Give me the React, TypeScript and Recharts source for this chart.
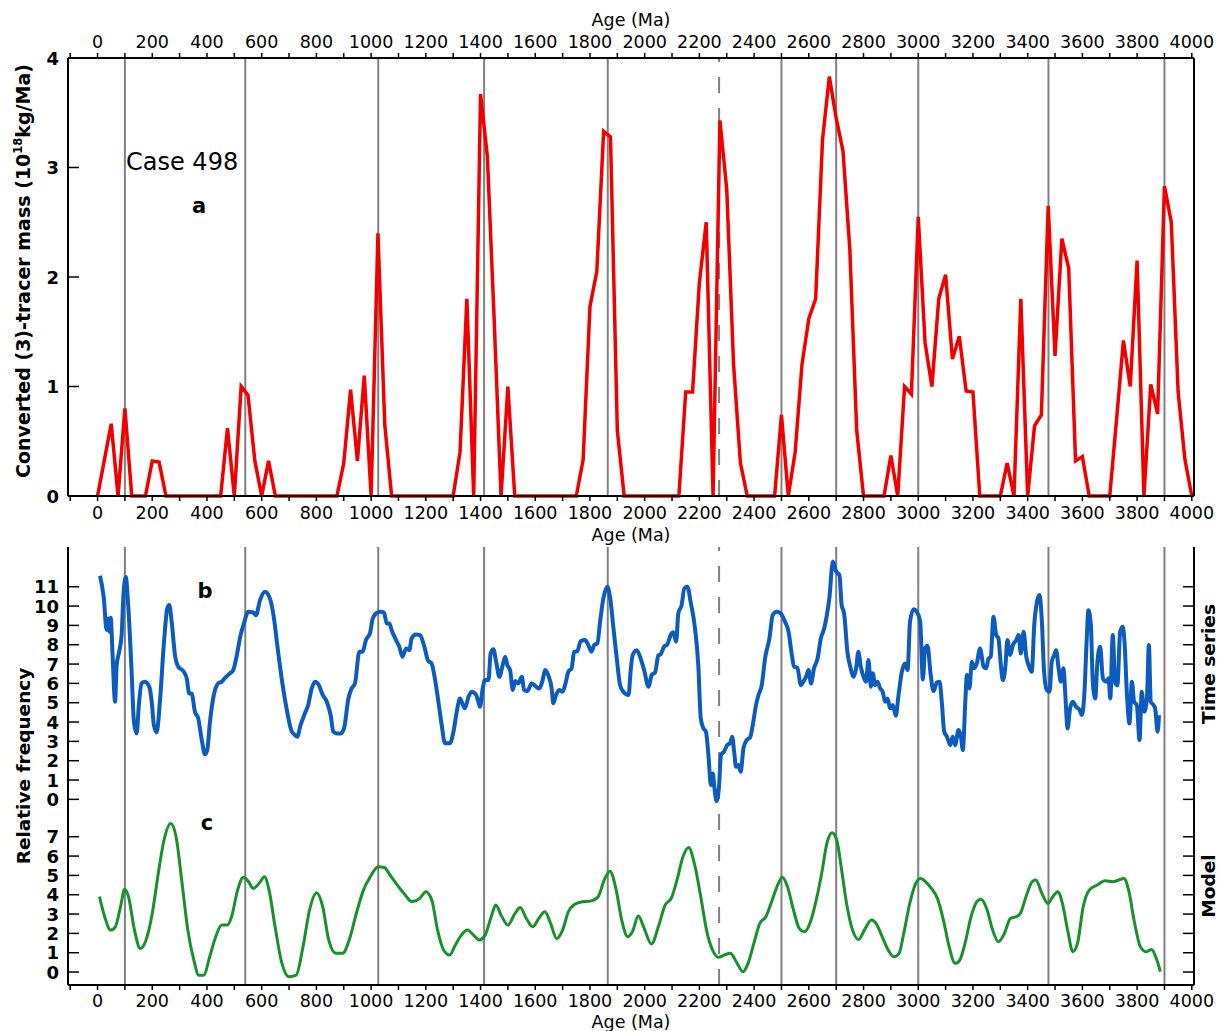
import React from "react";
import { LineChart, Line, XAxis, YAxis, ReferenceLine } from "recharts";

const FONT = "'DejaVu Sans', sans-serif";

// shared age axis
const AGE_DOMAIN = [-108, 4008];
const ageTicks = [
  -100, 0, 100, 200, 300, 400, 500, 600, 700, 800, 900, 1000, 1100, 1200,
  1300, 1400, 1500, 1600, 1700, 1800, 1900, 2000, 2100, 2200, 2300, 2400,
  2500, 2600, 2700, 2800, 2900, 3000, 3100, 3200, 3300, 3400, 3500, 3600,
  3700, 3800, 3900, 4000,
];

// event ages marked with vertical lines
const eventAges = [100, 540, 1026, 1413, 1865, 2500, 2700, 3000, 3476, 3900];
const dashedAge = 2272;

// (a) converted tracer mass, one value every 25 Ma from 0 to 4000
const tracerStep = 25;
const tracerMass = [
  0, 0.33, 0.66, 0, 0.8, 0, 0, 0,
  0.32, 0.31, 0, 0, 0, 0, 0, 0,
  0, 0, 0, 0.62, 0, 1.0, 0.92, 0.32,
  0, 0.32, 0, 0, 0, 0, 0, 0,
  0, 0, 0, 0, 0.3, 0.97, 0.32, 1.1,
  0, 2.4, 0.65, 0, 0, 0, 0, 0,
  0, 0, 0, 0, 0, 0.4, 1.8, 0,
  3.67, 3.1, 1.6, 0, 1.0, 0, 0, 0,
  0, 0, 0, 0, 0, 0, 0, 0.33,
  1.73, 2.05, 3.33, 3.28, 0.6, 0, 0, 0,
  0, 0, 0, 0, 0, 0, 0.95, 0.95,
  1.95, 2.5, 0, 3.43, 2.8, 1.2, 0.3, 0,
  0, 0, 0, 0, 0.74, 0, 0.4, 1.2,
  1.62, 1.8, 3.25, 3.83, 3.45, 3.15, 2.25, 0.6,
  0, 0, 0, 0, 0.37, 0, 1.0, 0.93,
  2.55, 1.4, 1.0, 1.8, 2.02, 1.25, 1.46, 0.96,
  0.95, 0, 0, 0, 0, 0.3, 0, 1.8,
  0, 0.64, 0.74, 2.65, 1.28, 2.35, 2.08, 0.32,
  0.36, 0, 0, 0, 0, 0.7, 1.42, 1.0,
  2.15, 0, 1.02, 0.75, 2.83, 2.5, 0.95, 0.33,
  0,
];
const massTicks = [0, 1, 2, 3, 4];

// (b) time series of relative frequency, [age, value]
const timeSeries = [
  [9, 11.57], [23, 10.4], [33, 8.76], [39, 9.36], [45, 8.67], [48, 9.4], [55, 7.47], [64, 5.05],
  [70, 6.95], [79, 7.64], [88, 8.5], [94, 10.4], [103, 11.5], [112, 10.05], [124, 6.78], [133, 4.02],
  [143, 3.41], [151, 4.88], [161, 6.0], [173, 6.09], [189, 5.83], [198, 5.05], [206, 3.84], [216, 3.47],
  [228, 5.05], [243, 8.16], [255, 9.88], [262, 10.05], [271, 9.19], [283, 7.47], [295, 6.86], [313, 6.64],
  [326, 6.26], [335, 5.48], [344, 5.48], [356, 4.53], [368, 4.19], [380, 3.16], [393, 2.33], [401, 2.55],
  [411, 4.02], [425, 5.4], [441, 6.0], [454, 6.09], [466, 6.29], [484, 6.52], [496, 6.69], [508, 7.38],
  [523, 8.5], [535, 9.1], [551, 9.7], [569, 9.67], [579, 9.53], [594, 10.31], [612, 10.74], [630, 10.4],
  [645, 9.36], [657, 7.98], [673, 6.26], [691, 4.7], [710, 3.5], [722, 3.33], [730, 3.24], [742, 3.84],
  [758, 4.45], [770, 4.88], [783, 5.74], [795, 6.09], [809, 5.91], [822, 5.43], [838, 5.05], [852, 4.36],
  [862, 3.5], [874, 3.41], [889, 3.41], [901, 3.67], [917, 5.22], [929, 5.74], [941, 6.0], [957, 7.64],
  [969, 7.64], [981, 8.24], [996, 8.6], [1006, 9.36], [1018, 9.62], [1033, 9.7], [1047, 9.67], [1057, 9.1],
  [1067, 9.1], [1075, 8.76], [1091, 8.24], [1103, 7.9], [1115, 7.38], [1128, 7.81], [1140, 7.72], [1148, 8.33],
  [1164, 8.53], [1179, 8.5], [1193, 7.98], [1209, 7.16], [1221, 7.03], [1234, 6.17], [1246, 5.05], [1258, 3.84],
  [1270, 2.9], [1288, 2.9], [1301, 3.5], [1313, 4.53], [1325, 5.22], [1335, 4.91], [1343, 4.71], [1356, 5.31],
  [1368, 5.57], [1384, 5.4], [1392, 5.05], [1398, 4.79], [1408, 5.74], [1416, 6.17], [1429, 6.17], [1437, 7.55],
  [1447, 7.76], [1457, 7.12], [1469, 6.34], [1481, 6.95], [1490, 7.38], [1498, 6.95], [1508, 6.69], [1518, 5.66],
  [1527, 6.12], [1538, 6.0], [1551, 6.34], [1559, 5.66], [1571, 5.6], [1587, 6.0], [1603, 5.83], [1615, 5.74],
  [1627, 6.17], [1636, 6.69], [1648, 6.4], [1660, 5.74], [1666, 4.97], [1676, 5.4], [1688, 5.66], [1700, 5.57],
  [1709, 5.91], [1721, 6.6], [1733, 6.78], [1742, 7.64], [1754, 7.67], [1766, 8.19], [1782, 8.24], [1794, 7.98],
  [1806, 7.64], [1815, 7.98], [1827, 8.07], [1837, 9.19], [1849, 10.4], [1864, 11.0], [1874, 10.4], [1886, 8.84],
  [1898, 7.29], [1910, 5.91], [1922, 5.57], [1941, 5.4], [1949, 6.69], [1956, 7.47], [1971, 7.72], [1983, 7.38],
  [1998, 6.69], [2014, 5.83], [2026, 6.45], [2038, 6.56], [2050, 7.45], [2058, 7.5], [2071, 7.9], [2083, 8.02],
  [2095, 8.5], [2105, 8.64], [2115, 8.16], [2123, 9.62], [2135, 10.05], [2145, 10.91], [2156, 11.0], [2168, 10.22],
  [2184, 8.84], [2196, 6.95], [2205, 4.19], [2215, 3.67], [2224, 3.5], [2233, 2.29], [2242, 0.74], [2249, 1.34],
  [2255, 0.57], [2263, -0.09], [2272, 0.74], [2279, 2.29], [2290, 2.47], [2302, 2.81], [2312, 2.9], [2320, 3.24],
  [2327, 2.47], [2334, 1.69], [2343, 1.78], [2351, 1.43], [2361, 2.64], [2373, 3.07], [2385, 3.19], [2395, 3.84],
  [2407, 4.88], [2416, 5.4], [2428, 5.91], [2440, 7.29], [2456, 8.33], [2468, 9.53], [2483, 9.7], [2497, 9.62],
  [2513, 9.19], [2526, 8.67], [2538, 7.47], [2546, 6.86], [2558, 6.81], [2571, 5.91], [2580, 6.09], [2590, 6.34],
  [2599, 6.69], [2608, 6.0], [2619, 6.78], [2632, 7.29], [2644, 8.33], [2656, 8.84], [2666, 9.53], [2675, 10.4],
  [2688, 12.3], [2700, 11.78], [2712, 11.6], [2720, 10.05], [2729, 9.62], [2741, 7.64], [2753, 6.78], [2763, 6.34],
  [2773, 6.78], [2781, 7.64], [2790, 6.86], [2800, 6.34], [2809, 6.09], [2818, 7.21], [2827, 5.83], [2834, 6.52],
  [2842, 5.91], [2851, 6.09], [2861, 5.74], [2870, 5.57], [2879, 5.05], [2888, 5.22], [2897, 4.71], [2907, 4.88],
  [2918, 4.33], [2928, 5.4], [2940, 6.6], [2952, 7.03], [2961, 6.69], [2970, 9.19], [2983, 9.84], [2995, 9.7],
  [3007, 9.2], [3017, 6.2], [3025, 7.81], [3034, 7.95], [3045, 6.5], [3056, 5.6], [3068, 6.05], [3078, 6.09],
  [3086, 5.05], [3095, 3.5], [3105, 3.24], [3117, 2.81], [3126, 3.24], [3135, 2.81], [3147, 3.59], [3156, 3.24],
  [3163, 2.55], [3172, 5.05], [3178, 6.43], [3187, 5.74], [3196, 7.12], [3204, 6.78], [3214, 7.03], [3226, 7.81],
  [3239, 6.86], [3248, 6.78], [3257, 7.29], [3265, 7.38], [3275, 9.45], [3285, 8.5], [3293, 8.33], [3302, 6.95],
  [3309, 6.17], [3318, 6.78], [3326, 8.24], [3336, 7.47], [3346, 7.98], [3358, 8.24], [3367, 8.5], [3375, 7.55],
  [3385, 8.67], [3395, 7.38], [3403, 6.95], [3415, 6.6], [3424, 9.02], [3434, 10.22], [3443, 10.57], [3452, 9.19],
  [3460, 6.6], [3470, 5.66], [3480, 5.57], [3488, 7.12], [3497, 7.47], [3504, 7.72], [3513, 6.78], [3521, 6.09],
  [3531, 6.78], [3537, 5.57], [3546, 3.67], [3555, 4.71], [3565, 5.05], [3577, 4.79], [3590, 4.62], [3598, 4.36],
  [3607, 5.4], [3616, 8.33], [3622, 9.79], [3631, 9.02], [3638, 6.09], [3647, 5.22], [3655, 7.12], [3665, 7.9],
  [3675, 6.26], [3687, 6.09], [3696, 6.26], [3702, 5.22], [3711, 8.5], [3720, 6.0], [3728, 5.91], [3738, 8.67],
  [3747, 8.93], [3754, 8.16], [3763, 5.4], [3772, 3.93], [3781, 6.09], [3789, 5.05], [3799, 4.88], [3809, 3.07],
  [3817, 5.57], [3826, 4.53], [3836, 5.22], [3843, 7.98], [3850, 5.05], [3860, 4.88], [3866, 4.71], [3875, 3.5],
  [3880, 4.36],
];

// (c) model relative frequency, [age, value]
const model = [
  [7, 3.9], [26, 2.86], [48, 2.17], [65, 2.34], [84, 3.38], [99, 4.28], [113, 3.9], [135, 2.17],
  [156, 1.22], [175, 1.57], [200, 3.03], [222, 5.1], [243, 6.83], [268, 7.69], [287, 7.0], [309, 4.59],
  [330, 2.17], [352, 0.62], [370, -0.16], [388, -0.16], [410, 0.79], [432, 1.83], [454, 2.43], [475, 2.43],
  [490, 2.86], [512, 4.24], [533, 4.9], [552, 4.67], [569, 4.33], [591, 4.59], [610, 4.93], [627, 4.24],
  [649, 2.34], [671, 0.62], [700, -0.24], [726, -0.16], [751, 1.31], [775, 3.21], [801, 4.1], [823, 3.38],
  [845, 1.66], [871, 0.97], [896, 0.97], [920, 1.66], [946, 3.03], [972, 4.24], [997, 4.93], [1026, 5.45],
  [1048, 5.41], [1069, 5.02], [1091, 4.59], [1120, 4.07], [1149, 3.64], [1178, 3.81], [1200, 4.16], [1222, 3.72],
  [1243, 2.17], [1265, 1.14], [1287, 0.88], [1308, 1.4], [1330, 1.91], [1352, 2.17], [1374, 1.91], [1395, 1.66],
  [1417, 1.91], [1439, 2.86], [1456, 3.47], [1475, 2.95], [1500, 2.43], [1526, 3.03], [1545, 3.34], [1567, 2.78],
  [1591, 2.34], [1613, 2.78], [1635, 3.12], [1656, 2.52], [1678, 1.74], [1700, 2.17], [1721, 3.12], [1743, 3.5],
  [1772, 3.64], [1801, 3.67], [1830, 3.9], [1852, 4.76], [1873, 5.22], [1895, 4.3], [1916, 2.69], [1938, 1.83],
  [1955, 2.09], [1977, 2.9], [1996, 2.34], [2025, 1.45], [2050, 2.34], [2075, 3.47], [2097, 3.81], [2118, 4.76],
  [2140, 5.97], [2161, 6.45], [2183, 5.53], [2205, 3.9], [2226, 2.17], [2248, 1.14], [2270, 0.76], [2291, 0.88],
  [2313, 0.97], [2335, 0.53], [2359, 0.02], [2378, 0.45], [2399, 1.48], [2421, 2.52], [2443, 2.86], [2464, 3.64],
  [2486, 4.5], [2503, 4.9], [2522, 4.41], [2544, 3.21], [2565, 2.26], [2584, 2.09], [2604, 2.52], [2627, 3.72],
  [2647, 5.1], [2666, 6.66], [2685, 7.21], [2702, 6.83], [2720, 5.28], [2738, 3.55], [2760, 2.17], [2782, 1.69],
  [2803, 2.17], [2829, 2.69], [2846, 2.52], [2868, 1.83], [2890, 1.14], [2911, 0.79], [2930, 0.97], [2947, 2.0],
  [2969, 3.55], [2991, 4.59], [3008, 4.84], [3027, 4.67], [3048, 4.33], [3070, 3.81], [3092, 2.69], [3113, 1.31],
  [3135, 0.45], [3152, 0.62], [3171, 1.48], [3193, 2.86], [3214, 3.64], [3229, 3.76], [3250, 3.29], [3272, 2.17],
  [3293, 1.57], [3315, 2.0], [3337, 2.78], [3358, 2.86], [3373, 3.03], [3394, 3.9], [3416, 4.67], [3430, 4.76],
  [3452, 4.07], [3474, 3.55], [3492, 3.9], [3510, 4.16], [3527, 3.55], [3546, 2.17], [3565, 1.05], [3582, 1.48],
  [3603, 3.38], [3625, 4.24], [3654, 4.5], [3683, 4.72], [3711, 4.67], [3733, 4.76], [3752, 4.84], [3769, 4.24],
  [3791, 2.52], [3812, 1.31], [3834, 1.05], [3853, 1.17], [3870, 0.71], [3885, 0.02],
];

const seriesTicks = [0, 1, 2, 3, 4, 5, 6, 7, 8, 9, 10, 11];
const modelTicks = [0, 1, 2, 3, 4, 5, 6, 7];

// the time series sits above the model on the same scale, shifted up
const SERIES_SHIFT = 8.934;
const FREQ_DOMAIN = [-0.67, 21.99];
const SERIES_DOMAIN = [FREQ_DOMAIN[0] - SERIES_SHIFT, FREQ_DOMAIN[1] - SERIES_SHIFT];
const freqTicks = [...modelTicks, ...seriesTicks.map((t) => t + SERIES_SHIFT)];
const freqLabel = (v: number) => String(Math.round(v > 8 ? v - SERIES_SHIFT : v));

const tracerData = tracerMass.map((m, i) => ({ age: i * tracerStep, mass: m }));
const seriesData = timeSeries.map(([age, v]) => ({ age, freq: v }));
const modelData = model.map(([age, v]) => ({ age, freq: v }));

const ageLabel = (v: number) => (v % 200 === 0 ? String(v) : "");

const axisLine = { stroke: "#000", strokeWidth: 2 };
const xTickStyle = { fill: "#000", fontSize: 17.5, fontFamily: FONT };

// y ticks point into the plot
const LeftTick = (props: any) => {
  const { x, y, payload, fmt } = props;
  return (
    <g>
      <line x1={x} x2={x + 11} y1={y} y2={y} stroke="#000" strokeWidth={1.5} />
      <text
        x={x - 9}
        y={y}
        textAnchor="end"
        dominantBaseline="central"
        fontFamily={FONT}
        fontWeight="bold"
        fontSize={18}
        fill="#000"
      >
        {fmt ? fmt(payload.value) : payload.value}
      </text>
    </g>
  );
};

const RightTick = (props: any) => {
  const { x, y } = props;
  return <line x1={x - 11} x2={x} y1={y} y2={y} stroke="#000" strokeWidth={1.5} />;
};

const markerLines = (xAxisId: string, yAxisId: string) => [
  ...eventAges.map((a) => (
    <ReferenceLine
      key={`ev-${a}`}
      x={a}
      xAxisId={xAxisId}
      yAxisId={yAxisId}
      stroke="#808080"
      strokeWidth={2}
      ifOverflow="visible"
    />
  )),
  <ReferenceLine
    key="ev-dashed"
    x={dashedAge}
    xAxisId={xAxisId}
    yAxisId={yAxisId}
    stroke="#808080"
    strokeWidth={2}
    strokeDasharray="16 15"
    ifOverflow="visible"
  />,
];

const TracerPanel = () => (
  <LineChart width={1218} height={540} data={tracerData} margin={{ top: 0, right: 0, bottom: 0, left: 0 }}>
    <XAxis
      xAxisId="top"
      orientation="top"
      dataKey="age"
      type="number"
      domain={AGE_DOMAIN}
      allowDataOverflow
      ticks={ageTicks}
      interval={0}
      tickFormatter={ageLabel}
      height={58}
      tickSize={5}
      tickMargin={5}
      axisLine={axisLine}
      tickLine={{ stroke: "#000", strokeWidth: 1.5 }}
      tick={xTickStyle}
    />
    <XAxis
      xAxisId="bottom"
      dataKey="age"
      type="number"
      domain={AGE_DOMAIN}
      allowDataOverflow
      ticks={ageTicks}
      interval={0}
      tickFormatter={ageLabel}
      height={44}
      tickSize={5}
      tickMargin={6}
      axisLine={axisLine}
      tickLine={{ stroke: "#000", strokeWidth: 1.5 }}
      tick={xTickStyle}
    />
    <YAxis
      yAxisId="mass"
      type="number"
      domain={[0, 4]}
      ticks={massTicks}
      interval={0}
      width={68}
      tickSize={0}
      tickMargin={0}
      tickLine={false}
      axisLine={axisLine}
      tick={<LeftTick />}
    />
    <YAxis
      yAxisId="massR"
      orientation="right"
      type="number"
      domain={[0, 4]}
      ticks={massTicks}
      interval={0}
      width={24}
      tickSize={0}
      tickMargin={0}
      tickLine={false}
      axisLine={axisLine}
      tick={<RightTick />}
    />
    {markerLines("bottom", "mass")}
    <Line
      xAxisId="bottom"
      yAxisId="mass"
      dataKey="mass"
      type="linear"
      stroke="#f20000"
      strokeWidth={3.5}
      dot={false}
      activeDot={false}
      isAnimationActive={false}
    />
  </LineChart>
);

const FrequencyPanel = () => (
  <LineChart width={1218} height={491} margin={{ top: 7, right: 0, bottom: 0, left: 0 }}>
    <XAxis
      xAxisId="age"
      dataKey="age"
      type="number"
      domain={AGE_DOMAIN}
      allowDataOverflow
      ticks={ageTicks}
      interval={0}
      tickFormatter={ageLabel}
      height={46}
      tickSize={5}
      tickMargin={5}
      axisLine={axisLine}
      tickLine={{ stroke: "#000", strokeWidth: 1.5 }}
      tick={xTickStyle}
    />
    <YAxis
      yAxisId="freq"
      type="number"
      domain={FREQ_DOMAIN}
      allowDataOverflow
      ticks={freqTicks}
      interval={0}
      width={68}
      tickSize={0}
      tickMargin={0}
      tickLine={false}
      axisLine={axisLine}
      tick={<LeftTick fmt={freqLabel} />}
    />
    <YAxis
      yAxisId="freqR"
      orientation="right"
      type="number"
      domain={FREQ_DOMAIN}
      allowDataOverflow
      ticks={freqTicks}
      interval={0}
      width={24}
      tickSize={0}
      tickMargin={0}
      tickLine={false}
      axisLine={axisLine}
      tick={<RightTick />}
    />
    <YAxis yAxisId="series" type="number" domain={SERIES_DOMAIN} allowDataOverflow hide />
    {markerLines("age", "freq")}
    <Line
      data={seriesData}
      xAxisId="age"
      yAxisId="series"
      dataKey="freq"
      type="monotone"
      stroke="#0c5cbf"
      strokeWidth={4}
      dot={false}
      activeDot={false}
      isAnimationActive={false}
    />
    <Line
      data={modelData}
      xAxisId="age"
      yAxisId="freq"
      dataKey="freq"
      type="monotone"
      stroke="#18902e"
      strokeWidth={3}
      dot={false}
      activeDot={false}
      isAnimationActive={false}
    />
  </LineChart>
);

// titles and panel letters
const Labels = () => (
  <svg
    width={1218}
    height={1031}
    style={{ position: "absolute", left: 0, top: 0, pointerEvents: "none" }}
    fontFamily={FONT}
    fill="#000"
  >
    <text x={631} y={26} textAnchor="middle" fontSize={17.5}>Age (Ma)</text>
    <text x={631} y={541} textAnchor="middle" fontSize={17.5}>Age (Ma)</text>
    <text x={631} y={1028} textAnchor="middle" fontSize={17.5}>Age (Ma)</text>

    <text x={30} y={271} textAnchor="middle" fontSize={19} fontWeight="bold" transform="rotate(-90 30 271)">
      Converted (3)-tracer mass (10
      <tspan fontSize={11.5} dy={-8}>18</tspan>
      <tspan dy={8}>kg/Ma)</tspan>
    </text>
    <text x={30} y={766} textAnchor="middle" fontSize={18.5} fontWeight="bold" transform="rotate(-90 30 766)">
      Relative frequency
    </text>
    <text x={1215} y={664} textAnchor="middle" fontSize={18.5} fontWeight="bold" transform="rotate(-90 1215 664)">
      Time series
    </text>
    <text x={1215} y={886} textAnchor="middle" fontSize={18.5} fontWeight="bold" transform="rotate(-90 1215 886)">
      Model
    </text>

    <text x={126} y={170} fontSize={24}>Case 498</text>
    <text x={199} y={213} textAnchor="middle" fontSize={21} fontWeight="bold">a</text>
    <text x={205} y={598} textAnchor="middle" fontSize={21} fontWeight="bold">b</text>
    <text x={207} y={830} textAnchor="middle" fontSize={21} fontWeight="bold">c</text>
  </svg>
);

export default function App() {
  return (
    <div style={{ position: "absolute", left: 0, top: 0, width: 1218, height: 1031, background: "#fff" }}>
      <div style={{ position: "absolute", left: 0, top: 0 }}>
        <TracerPanel />
      </div>
      <div style={{ position: "absolute", left: 0, top: 540 }}>
        <FrequencyPanel />
      </div>
      <Labels />
    </div>
  );
}
